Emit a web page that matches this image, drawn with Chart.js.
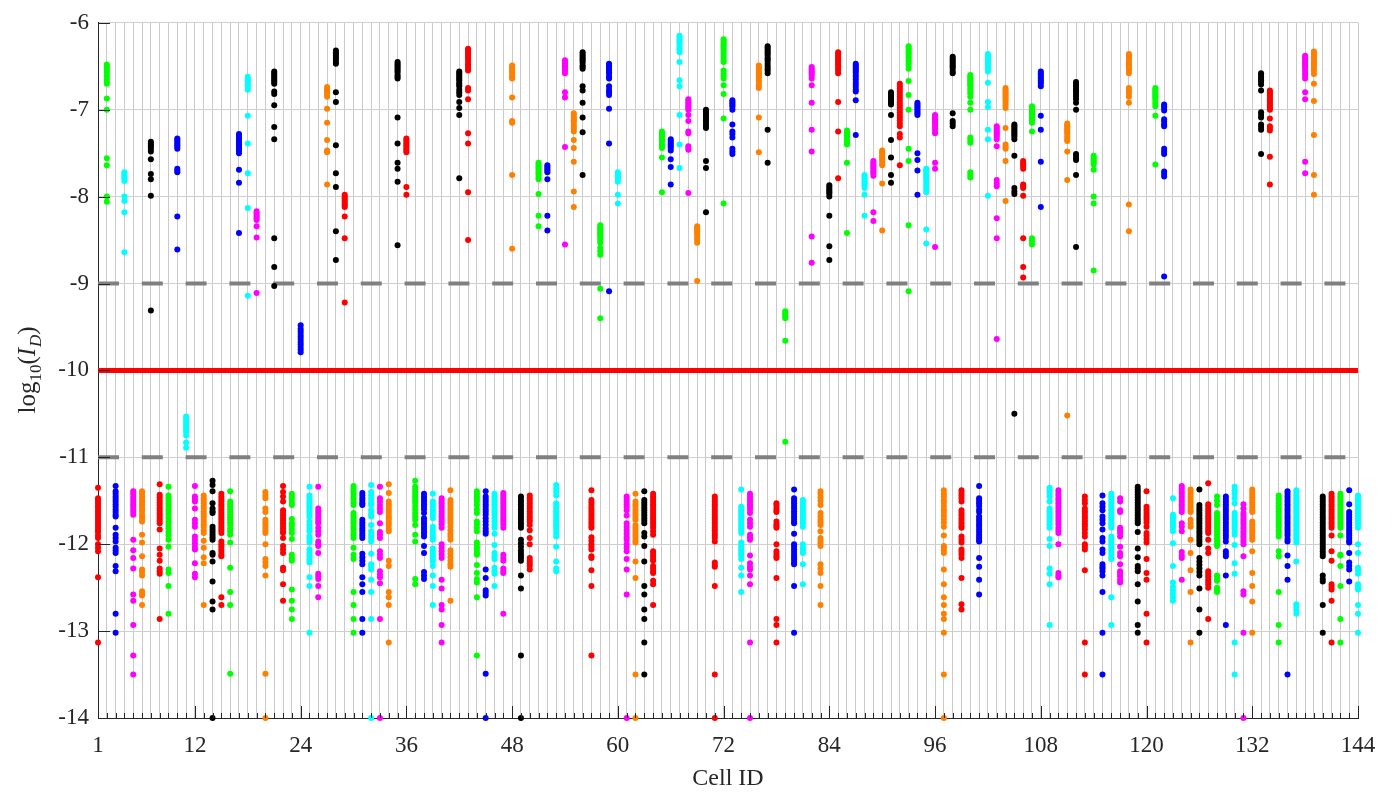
<!DOCTYPE html>
<html>
<head>
<meta charset="utf-8">
<script src="https://cdn.jsdelivr.net/npm/chart.js@4"></script>
<style>
  html, body { margin: 0; padding: 0; background: #ffffff; }
  #wrap { width: 1396px; height: 798px; }
</style>
</head>
<body>
<div id="wrap"><canvas id="chart" width="1396" height="798"></canvas></div>
<script>
// Colour of each cell cycles through seven colours by cell number
const colourCycle = ['#ff0000', '#00ff00', '#0000ff', '#00ffff', '#ff00ff', '#ff8000', '#000000'];

// Tick labels of the cell axis
const cellTickLabels = [1, 12, 24, 36, 48, 60, 72, 84, 96, 108, 120, 132, 144];

// Threshold levels of log10(I_D)
const upperLimit = [-9];
const cutLevel = [-10];
const lowerLimit = [-11];

// Cells whose readings sit above the lower limit
const upperCells = [2, 4, 7, 10, 11, 17, 18, 19, 21, 24, 27, 28, 29, 35, 36, 42, 43, 48, 51, 52, 54, 55, 56, 58, 59, 60,
  65, 66, 67, 68, 69, 70, 72, 73, 76, 77, 79, 82, 84, 85, 86, 87, 88, 89, 90, 91, 92, 93, 94, 95, 96, 98, 100, 102,
  103, 104, 105, 106, 107, 108, 111, 112, 114, 118, 121, 122, 133, 134, 138, 139];
const upperReadings = [
  [-6.48,-6.5,-6.52,-6.55,-6.57,-6.6,-6.62,-6.65,-6.68,-6.7,-6.87,-7.0,-7.56,-7.64,-8.0,-8.06],
  [-7.72,-7.74,-7.76,-7.78,-7.8,-7.82,-8.0,-8.05,-8.18,-8.64],
  [-7.37,-7.39,-7.41,-7.43,-7.45,-7.48,-7.57,-7.74,-7.8,-7.99,-9.31],
  [-7.33,-7.35,-7.37,-7.39,-7.41,-7.43,-7.45,-7.68,-7.7,-7.72,-8.23,-8.61],
  [-10.53,-10.56,-10.59,-10.62,-10.65,-10.68,-10.71,-10.75,-10.83,-10.89],
  [-7.28,-7.3,-7.32,-7.34,-7.36,-7.38,-7.4,-7.42,-7.44,-7.46,-7.48,-7.5,-7.69,-7.84,-8.42],
  [-6.62,-6.64,-6.66,-6.68,-6.71,-6.74,-6.77,-7.07,-7.39,-7.73,-8.13,-9.14],
  [-8.17,-8.19,-8.21,-8.23,-8.25,-8.27,-8.34,-8.47,-9.11],
  [-6.56,-6.58,-6.6,-6.62,-6.64,-6.66,-6.68,-6.7,-6.79,-6.82,-6.95,-7.2,-7.34,-8.48,-8.81,-9.03],
  [-9.48,-9.52,-9.55,-9.58,-9.61,-9.64,-9.67,-9.7,-9.73,-9.76,-9.79],
  [-6.74,-6.76,-6.78,-6.8,-6.82,-6.85,-6.99,-7.15,-7.35,-7.47,-7.49,-7.86],
  [-6.32,-6.34,-6.36,-6.38,-6.4,-6.42,-6.45,-6.47,-6.8,-6.91,-7.41,-7.73,-7.89,-8.4,-8.73],
  [-7.98,-8.0,-8.02,-8.04,-8.06,-8.08,-8.1,-8.12,-8.23,-8.48,-9.22],
  [-6.45,-6.47,-6.49,-6.51,-6.53,-6.55,-6.57,-6.6,-6.62,-6.64,-7.09,-7.39,-7.61,-7.68,-7.83,-8.56],
  [-7.33,-7.35,-7.37,-7.39,-7.41,-7.43,-7.45,-7.47,-7.49,-7.89,-7.98],
  [-6.56,-6.58,-6.6,-6.62,-6.64,-6.66,-6.69,-6.71,-6.73,-6.77,-6.8,-6.83,-6.91,-6.98,-7.06,-7.79],
  [-6.3,-6.32,-6.34,-6.36,-6.38,-6.4,-6.42,-6.45,-6.48,-6.5,-6.53,-6.55,-6.75,-6.78,-6.88,-7.27,-7.39,-7.95,-8.5],
  [-6.49,-6.51,-6.53,-6.55,-6.57,-6.6,-6.62,-6.64,-6.86,-7.13,-7.15,-7.75,-8.6],
  [-7.61,-7.63,-7.65,-7.67,-7.69,-7.71,-7.73,-7.75,-7.78,-7.8,-7.97,-8.22,-8.34],
  [-7.64,-7.66,-7.68,-7.7,-7.72,-7.8,-8.22,-8.39],
  [-6.43,-6.45,-6.47,-6.49,-6.51,-6.53,-6.55,-6.58,-6.8,-6.86,-7.43,-8.55],
  [-7.04,-7.06,-7.08,-7.1,-7.12,-7.14,-7.17,-7.2,-7.22,-7.25,-7.35,-7.44,-7.6,-7.94,-8.12],
  [-6.34,-6.36,-6.38,-6.4,-6.42,-6.44,-6.46,-6.49,-6.51,-6.53,-6.73,-6.78,-6.92,-7.09,-7.26,-7.75],
  [-8.33,-8.35,-8.37,-8.39,-8.41,-8.43,-8.45,-8.47,-8.5,-8.53,-8.59,-8.63,-8.67,-9.06,-9.4],
  [-6.47,-6.49,-6.51,-6.53,-6.55,-6.57,-6.59,-6.62,-6.64,-6.73,-6.77,-6.8,-6.83,-6.99,-7.39,-9.09],
  [-7.72,-7.74,-7.76,-7.78,-7.8,-7.83,-7.98,-8.08],
  [-7.25,-7.27,-7.29,-7.31,-7.33,-7.35,-7.37,-7.4,-7.42,-7.44,-7.55,-7.95],
  [-7.34,-7.36,-7.38,-7.4,-7.42,-7.44,-7.47,-7.57,-7.66,-7.86],
  [-6.15,-6.17,-6.19,-6.21,-6.23,-6.26,-6.29,-6.31,-6.34,-6.45,-6.66,-6.73,-7.06,-7.4,-7.67],
  [-6.88,-6.9,-6.92,-6.94,-6.96,-6.98,-7.0,-7.06,-7.13,-7.25,-7.27,-7.42,-7.44,-7.46,-7.96],
  [-8.34,-8.36,-8.38,-8.4,-8.42,-8.44,-8.47,-8.5,-8.53,-8.97],
  [-7.0,-7.02,-7.04,-7.06,-7.08,-7.1,-7.12,-7.14,-7.17,-7.19,-7.21,-7.59,-7.67,-8.18],
  [-6.19,-6.21,-6.23,-6.25,-6.27,-6.29,-6.31,-6.34,-6.37,-6.4,-6.43,-6.45,-6.55,-6.58,-6.61,-6.64,-6.72,-6.82,-7.1,-8.08],
  [-6.89,-6.91,-6.93,-6.95,-6.97,-7.0,-7.17,-7.25,-7.28,-7.32,-7.45,-7.48,-7.51],
  [-6.49,-6.51,-6.53,-6.55,-6.57,-6.59,-6.61,-6.63,-6.66,-6.69,-6.72,-6.75,-7.09,-7.49],
  [-6.27,-6.29,-6.31,-6.33,-6.35,-6.37,-6.4,-6.42,-6.44,-6.47,-6.5,-6.53,-6.55,-6.58,-7.23,-7.61],
  [-9.32,-9.34,-9.36,-9.38,-9.4,-9.66,-10.82],
  [-6.51,-6.53,-6.55,-6.57,-6.59,-6.61,-6.64,-6.72,-6.92,-7.23,-7.48,-8.46,-8.76],
  [-7.87,-7.89,-7.91,-7.93,-7.95,-7.97,-8.0,-8.22,-8.57,-8.73],
  [-6.34,-6.36,-6.38,-6.4,-6.42,-6.44,-6.46,-6.48,-6.5,-6.53,-6.55,-6.58,-6.91,-7.25,-7.79],
  [-7.24,-7.26,-7.28,-7.3,-7.32,-7.34,-7.36,-7.38,-7.4,-7.61,-8.42],
  [-6.47,-6.49,-6.51,-6.53,-6.55,-6.57,-6.6,-6.62,-6.65,-6.68,-6.71,-6.74,-6.77,-6.79,-6.89,-7.29],
  [-7.75,-7.77,-7.79,-7.81,-7.83,-7.85,-7.87,-7.9,-7.98,-8.22],
  [-7.59,-7.61,-7.63,-7.65,-7.67,-7.69,-7.71,-7.73,-7.76,-8.18,-8.28],
  [-7.47,-7.49,-7.51,-7.53,-7.55,-7.57,-7.59,-7.62,-7.64,-7.85,-8.39],
  [-6.8,-6.82,-6.84,-6.86,-6.88,-6.9,-6.92,-6.94,-7.06,-7.35,-7.55,-7.75,-7.84],
  [-6.7,-6.73,-6.76,-6.79,-6.82,-6.85,-6.88,-6.91,-6.94,-6.97,-7.0,-7.03,-7.06,-7.09,-7.12,-7.16,-7.19,-7.28,-7.32,-7.64],
  [-6.27,-6.29,-6.31,-6.33,-6.35,-6.37,-6.4,-6.43,-6.46,-6.49,-6.53,-6.67,-6.83,-7.0,-7.45,-7.59,-8.33,-9.09],
  [-6.92,-6.94,-6.96,-6.98,-7.0,-7.02,-7.04,-7.06,-7.5,-7.58,-7.7,-7.98],
  [-7.68,-7.7,-7.72,-7.74,-7.76,-7.78,-7.8,-7.83,-7.86,-7.89,-7.92,-7.95,-8.38,-8.54],
  [-7.06,-7.08,-7.1,-7.12,-7.14,-7.16,-7.18,-7.21,-7.24,-7.27,-7.61,-7.68,-8.58],
  [-6.39,-6.41,-6.43,-6.45,-6.47,-6.49,-6.51,-6.53,-6.56,-6.58,-7.04,-7.13,-7.16,-7.19],
  [-6.6,-6.62,-6.64,-6.66,-6.68,-6.7,-6.72,-6.75,-6.78,-6.81,-6.85,-6.92,-7.0,-7.32,-7.35,-7.38,-7.72,-7.75,-7.78],
  [-6.36,-6.38,-6.4,-6.42,-6.44,-6.46,-6.48,-6.5,-6.53,-6.56,-6.69,-6.91,-6.97,-7.23,-7.34,-7.99],
  [-7.19,-7.21,-7.23,-7.25,-7.27,-7.29,-7.31,-7.34,-7.42,-7.81,-7.85,-7.88,-8.25,-8.48,-9.64],
  [-6.75,-6.77,-6.79,-6.81,-6.83,-6.85,-6.87,-6.89,-6.92,-6.95,-6.98,-7.21,-7.4,-7.43,-7.45,-7.59,-8.05],
  [-7.17,-7.19,-7.21,-7.23,-7.25,-7.27,-7.29,-7.31,-7.34,-7.53,-7.9,-7.94,-7.97,-10.5],
  [-7.59,-7.61,-7.63,-7.65,-7.68,-7.86,-7.88,-7.9,-7.99,-8.48,-8.81,-8.93],
  [-6.96,-6.98,-7.0,-7.02,-7.04,-7.06,-7.08,-7.1,-7.12,-7.15,-7.25,-8.48,-8.51,-8.55],
  [-6.56,-6.58,-6.6,-6.62,-6.64,-6.66,-6.68,-6.7,-6.73,-7.07,-7.23,-7.6,-8.12],
  [-7.16,-7.18,-7.2,-7.22,-7.24,-7.26,-7.28,-7.31,-7.34,-7.36,-7.48,-7.81,-10.52],
  [-6.68,-6.7,-6.72,-6.74,-6.76,-6.78,-6.8,-6.83,-6.85,-6.88,-6.92,-7.0,-7.51,-7.53,-7.56,-7.58,-7.75,-8.58],
  [-7.53,-7.55,-7.57,-7.59,-7.61,-7.63,-7.69,-8.0,-8.08,-8.85],
  [-6.36,-6.38,-6.4,-6.42,-6.44,-6.46,-6.48,-6.5,-6.52,-6.55,-6.58,-6.75,-6.78,-6.81,-6.85,-6.92,-8.09,-8.4],
  [-6.75,-6.77,-6.79,-6.81,-6.83,-6.85,-6.87,-6.9,-6.93,-6.96,-7.07,-7.63],
  [-6.94,-6.96,-6.98,-7.01,-7.11,-7.14,-7.17,-7.19,-7.45,-7.48,-7.51,-7.71,-7.74,-7.77,-8.92],
  [-6.58,-6.6,-6.62,-6.64,-6.66,-6.68,-6.71,-6.78,-7.03,-7.06,-7.09,-7.17,-7.2,-7.23,-7.51],
  [-6.78,-6.8,-6.82,-6.84,-6.86,-6.88,-6.9,-6.92,-6.94,-6.96,-6.98,-7.0,-7.1,-7.19,-7.21,-7.24,-7.54,-7.86],
  [-6.38,-6.4,-6.42,-6.44,-6.46,-6.48,-6.5,-6.52,-6.55,-6.58,-6.61,-6.64,-6.8,-6.88,-7.6,-7.73],
  [-6.33,-6.35,-6.37,-6.39,-6.41,-6.43,-6.45,-6.47,-6.49,-6.52,-6.55,-6.59,-6.7,-6.9,-7.29,-7.75,-7.98]
];

// Cells whose readings sit below the lower limit (-14 is the measurement floor)
const lowerCells = [1, 3, 5, 6, 8, 9, 12, 13, 14, 15, 16, 20, 22, 23, 25, 26, 30, 31, 32, 33, 34, 37, 38, 39, 40, 41,
  44, 45, 46, 47, 49, 50, 53, 57, 61, 62, 63, 64, 71, 74, 75, 78, 80, 81, 83, 97, 99, 101, 109, 110, 113, 115, 116,
  117, 119, 120, 123, 124, 125, 126, 127, 128, 129, 130, 131, 132, 135, 136, 137, 140, 141, 142, 143, 144];
const lowerReadings = [
  [-11.35,-11.47,-11.5,-11.53,-11.56,-11.59,-11.62,-11.65,-11.68,-11.71,-11.74,-11.77,-11.8,-11.83,-11.86,-11.9,-11.93,-12.0,-12.04,-12.08,-12.38,-13.13],
  [-11.33,-11.39,-11.42,-11.45,-11.48,-11.51,-11.54,-11.57,-11.6,-11.63,-11.66,-11.68,-11.81,-11.89,-11.93,-11.97,-12.04,-12.07,-12.1,-12.25,-12.31,-12.8,-13.02],
  [-11.39,-11.42,-11.45,-11.48,-11.51,-11.54,-11.57,-11.6,-11.63,-11.66,-11.95,-12.07,-12.16,-12.28,-12.58,-12.65,-12.93,-13.28,-13.5],
  [-11.39,-11.42,-11.45,-11.48,-11.51,-11.54,-11.57,-11.6,-11.63,-11.67,-11.7,-11.74,-11.89,-11.98,-12.14,-12.29,-12.32,-12.36,-12.54,-12.57,-12.59,-12.7],
  [-11.31,-11.43,-11.46,-11.49,-11.52,-11.55,-11.58,-11.61,-11.64,-11.67,-11.7,-11.73,-11.76,-11.83,-12.05,-12.12,-12.19,-12.28,-12.31,-12.34,-12.86],
  [-11.34,-11.44,-11.47,-11.5,-11.53,-11.56,-11.6,-11.63,-11.66,-11.7,-11.74,-11.78,-11.82,-11.86,-11.9,-11.95,-12.03,-12.29,-12.33,-12.48,-12.8],
  [-11.33,-11.45,-11.48,-11.51,-11.59,-11.72,-11.76,-11.8,-11.91,-11.95,-11.99,-12.03,-12.06,-12.22,-12.34,-12.38],
  [-11.44,-11.47,-11.5,-11.53,-11.56,-11.59,-11.62,-11.65,-11.68,-11.71,-11.74,-11.77,-11.8,-11.84,-11.87,-11.96,-12.04,-12.15,-12.22,-12.7],
  [-11.27,-11.32,-11.39,-11.53,-11.59,-11.62,-11.64,-11.8,-11.83,-11.86,-11.89,-11.92,-11.95,-12.1,-12.12,-12.2,-12.43,-12.66,-12.75,-14],
  [-11.42,-11.45,-11.48,-11.51,-11.54,-11.57,-11.6,-11.63,-11.66,-11.69,-11.72,-11.75,-11.78,-11.81,-11.84,-11.87,-11.97,-12.0,-12.03,-12.06,-12.09,-12.12,-12.14,-12.61,-12.7],
  [-11.39,-11.51,-11.54,-11.57,-11.6,-11.63,-11.66,-11.69,-11.72,-11.75,-11.78,-11.82,-11.85,-11.89,-11.98,-12.27,-12.55,-12.7,-13.49],
  [-11.4,-11.44,-11.47,-11.59,-11.63,-11.72,-11.75,-11.78,-11.81,-11.84,-11.87,-12.0,-12.17,-12.21,-12.25,-12.36,-13.49,-14],
  [-11.33,-11.4,-11.45,-11.51,-11.61,-11.64,-11.67,-11.7,-11.73,-11.76,-11.79,-11.82,-11.85,-11.87,-11.93,-12.02,-12.06,-12.1,-12.27,-12.3,-12.46,-12.65],
  [-11.42,-11.45,-11.48,-11.52,-11.55,-11.71,-11.76,-11.79,-11.83,-11.87,-11.94,-12.12,-12.16,-12.19,-12.52,-12.65,-12.75,-12.86],
  [-11.34,-11.44,-11.47,-11.5,-11.53,-11.56,-11.59,-11.62,-11.65,-11.68,-11.74,-11.78,-11.82,-11.85,-11.91,-11.95,-11.98,-12.06,-12.1,-12.14,-12.18,-12.21,-12.38,-12.48,-13.02],
  [-11.34,-11.59,-11.62,-11.65,-11.68,-11.71,-11.74,-11.76,-11.81,-11.85,-11.89,-11.97,-12.0,-12.02,-12.1,-12.34,-12.37,-12.4,-12.48,-12.61],
  [-11.33,-11.36,-11.39,-11.42,-11.45,-11.48,-11.52,-11.55,-11.64,-11.67,-11.7,-11.73,-11.76,-11.8,-11.83,-11.87,-11.9,-11.93,-12.04,-12.12,-12.17,-12.55,-12.7,-12.86,-13.02],
  [-11.41,-11.44,-11.47,-11.5,-11.53,-11.55,-11.72,-11.75,-11.78,-11.81,-11.84,-11.87,-11.9,-11.93,-12.11,-12.15,-12.19,-12.23,-12.38,-12.46,-12.55,-12.86,-13.02],
  [-11.32,-11.4,-11.44,-11.48,-11.52,-11.55,-11.61,-11.65,-11.68,-11.78,-11.85,-11.89,-11.93,-11.97,-12.11,-12.23,-12.26,-12.29,-12.41,-12.55,-12.86,-14],
  [-11.34,-11.47,-11.51,-11.55,-11.59,-11.63,-11.76,-11.86,-11.89,-11.93,-12.08,-12.12,-12.16,-12.31,-12.35,-12.38,-12.45,-12.86,-14],
  [-11.31,-11.41,-11.51,-11.54,-11.57,-11.6,-11.63,-11.66,-11.69,-11.72,-11.75,-11.78,-11.82,-11.85,-12.19,-12.25,-12.55,-12.61,-12.7,-13.13],
  [-11.27,-11.34,-11.37,-11.4,-11.43,-11.46,-11.49,-11.52,-11.56,-11.6,-11.64,-11.68,-11.72,-11.78,-11.89,-11.97,-12.4,-12.46],
  [-11.42,-11.45,-11.48,-11.51,-11.54,-11.57,-11.6,-11.64,-11.7,-11.73,-11.76,-11.79,-11.82,-11.85,-11.88,-11.91,-12.02,-12.1,-12.32,-12.36,-12.4],
  [-11.42,-11.51,-11.54,-11.57,-11.6,-11.63,-11.66,-11.7,-11.8,-11.84,-11.88,-11.92,-11.95,-12.05,-12.08,-12.11,-12.14,-12.17,-12.2,-12.25,-12.36,-12.48,-12.7],
  [-11.47,-11.5,-11.53,-11.56,-11.59,-11.62,-11.65,-11.68,-11.71,-11.74,-11.77,-11.81,-12.0,-12.04,-12.08,-12.12,-12.16,-12.41,-12.51,-12.7,-12.75,-12.93,-13.13],
  [-11.38,-11.49,-11.52,-11.55,-11.58,-11.61,-11.64,-11.67,-11.7,-11.73,-11.76,-11.8,-11.84,-11.88,-11.91,-11.95,-12.07,-12.11,-12.15,-12.19,-12.23,-12.26,-12.65],
  [-11.39,-11.42,-11.45,-11.48,-11.51,-11.55,-11.6,-11.64,-11.74,-11.77,-11.81,-11.85,-11.98,-12.01,-12.04,-12.07,-12.1,-12.12,-12.24,-12.33,-12.4,-12.44,-12.61,-13.28],
  [-11.39,-11.45,-11.48,-11.51,-11.54,-11.57,-11.6,-11.63,-11.66,-11.7,-11.74,-11.78,-11.82,-11.85,-11.88,-12.29,-12.39,-12.53,-12.56,-12.59,-13.49,-14],
  [-11.42,-11.45,-11.48,-11.51,-11.54,-11.57,-11.6,-11.63,-11.66,-11.7,-11.74,-11.78,-11.81,-11.88,-12.01,-12.1,-12.14,-12.17,-12.27,-12.31,-12.34,-12.48],
  [-11.41,-11.44,-11.47,-11.5,-11.53,-11.56,-11.59,-11.62,-11.65,-11.68,-11.71,-11.74,-11.77,-11.81,-12.12,-12.16,-12.19,-12.28,-12.31,-12.33,-12.8],
  [-11.45,-11.48,-11.51,-11.54,-11.57,-11.6,-11.63,-11.66,-11.69,-11.72,-11.75,-11.78,-11.81,-11.95,-11.99,-12.03,-12.07,-12.1,-12.13,-12.16,-12.19,-12.36,-12.51,-13.28,-14],
  [-11.44,-11.47,-11.5,-11.53,-11.56,-11.59,-11.62,-11.65,-11.68,-11.71,-11.74,-11.78,-11.84,-11.93,-12.0,-12.16,-12.19,-12.22,-12.25,-12.29],
  [-11.32,-11.36,-11.4,-11.44,-11.53,-11.56,-11.59,-11.62,-11.65,-11.68,-11.71,-11.74,-11.77,-11.8,-11.83,-11.87,-11.91,-12.03,-12.2,-12.28,-12.31],
  [-11.38,-11.49,-11.52,-11.55,-11.58,-11.61,-11.64,-11.67,-11.7,-11.73,-11.76,-11.79,-11.81,-11.92,-11.96,-12.0,-12.03,-12.06,-12.14,-12.16,-12.3,-12.48,-13.28],
  [-11.45,-11.48,-11.51,-11.54,-11.57,-11.61,-11.67,-11.76,-11.8,-11.84,-11.88,-11.92,-11.95,-12.0,-12.04,-12.08,-12.17,-12.29,-12.58,-14],
  [-11.42,-11.51,-11.54,-11.57,-11.6,-11.63,-11.66,-11.69,-11.72,-11.78,-11.81,-11.84,-11.87,-11.9,-11.93,-11.96,-11.98,-12.2,-12.39,-13.5,-14],
  [-11.39,-11.49,-11.52,-11.55,-11.58,-11.61,-11.64,-11.67,-11.7,-11.73,-11.76,-11.87,-11.91,-12.02,-12.2,-12.48,-12.58,-12.75,-12.86,-13.13,-13.5],
  [-11.42,-11.45,-11.48,-11.51,-11.54,-11.57,-11.6,-11.63,-11.66,-11.69,-11.72,-11.75,-11.78,-11.81,-11.85,-11.89,-12.08,-12.11,-12.14,-12.17,-12.19,-12.25,-12.28,-12.31,-12.33,-12.42,-12.46,-12.7],
  [-11.45,-11.48,-11.51,-11.54,-11.57,-11.6,-11.63,-11.66,-11.69,-11.72,-11.75,-11.78,-11.81,-11.84,-11.87,-11.9,-11.93,-11.97,-12.21,-12.24,-12.26,-12.48,-13.5,-14],
  [-11.37,-11.57,-11.6,-11.63,-11.66,-11.69,-11.72,-11.75,-11.78,-11.81,-11.84,-11.87,-11.98,-12.01,-12.04,-12.07,-12.1,-12.13,-12.17,-12.27,-12.36,-12.55],
  [-11.42,-11.45,-11.48,-11.51,-11.54,-11.57,-11.6,-11.64,-11.72,-11.76,-11.8,-11.89,-11.92,-11.95,-12.13,-12.22,-12.26,-12.29,-12.36,-12.46,-13.13,-14],
  [-11.53,-11.55,-11.58,-11.61,-11.63,-11.74,-11.77,-11.79,-11.81,-12.0,-12.08,-12.11,-12.14,-12.16,-12.39,-12.86,-12.93,-13.13],
  [-11.37,-11.47,-11.5,-11.53,-11.56,-11.59,-11.62,-11.65,-11.68,-11.71,-11.74,-11.76,-11.88,-12.0,-12.03,-12.06,-12.09,-12.12,-12.15,-12.18,-12.21,-12.23,-12.48,-13.02],
  [-11.49,-11.52,-11.55,-11.58,-11.61,-11.64,-11.67,-11.7,-11.73,-11.76,-11.8,-12.0,-12.04,-12.07,-12.1,-12.23,-12.46],
  [-11.39,-11.42,-11.46,-11.5,-11.55,-11.64,-11.68,-11.72,-11.75,-11.78,-11.85,-11.93,-11.96,-11.99,-12.02,-12.23,-12.28,-12.33,-12.48,-12.7],
  [-11.38,-11.42,-11.45,-11.49,-11.52,-11.56,-11.6,-11.63,-11.67,-11.71,-11.75,-11.8,-11.9,-12.02,-12.04,-12.07,-12.1,-12.29,-12.46,-12.61,-12.7,-12.8,-12.86,-13.02,-13.5,-14],
  [-11.38,-11.41,-11.44,-11.47,-11.51,-11.61,-11.64,-11.67,-11.7,-11.73,-11.76,-11.79,-11.81,-11.91,-11.95,-11.98,-12.06,-12.09,-12.12,-12.16,-12.39,-12.69,-12.75],
  [-11.33,-11.47,-11.5,-11.53,-11.56,-11.6,-11.63,-11.68,-11.71,-11.74,-11.77,-11.8,-11.83,-11.86,-11.89,-11.92,-11.95,-11.97,-12.16,-12.26,-12.41,-12.58],
  [-11.35,-11.38,-11.41,-11.45,-11.51,-11.59,-11.62,-11.65,-11.68,-11.71,-11.74,-11.77,-11.81,-11.94,-12.02,-12.28,-12.34,-12.46,-12.93],
  [-11.38,-11.41,-11.44,-11.47,-11.5,-11.53,-11.56,-11.59,-11.62,-11.65,-11.68,-11.71,-11.74,-11.77,-11.81,-11.84,-11.87,-12.0,-12.33,-12.36,-12.38],
  [-11.45,-11.49,-11.53,-11.59,-11.62,-11.65,-11.68,-11.71,-11.74,-11.77,-11.8,-11.83,-11.87,-11.91,-12.0,-12.03,-12.06,-12.3,-13.13,-13.5],
  [-11.44,-11.53,-11.57,-11.61,-11.68,-11.72,-11.76,-11.83,-11.93,-11.97,-12.06,-12.1,-12.23,-12.26,-12.28,-12.31,-12.36,-12.55,-13.02,-13.5],
  [-11.42,-11.45,-11.48,-11.51,-11.54,-11.57,-11.6,-11.63,-11.66,-11.69,-11.72,-11.75,-11.78,-11.81,-11.91,-11.94,-11.97,-12.0,-12.03,-12.06,-12.1,-12.14,-12.17,-12.61,-12.93],
  [-11.47,-11.51,-11.61,-11.63,-11.81,-11.84,-11.87,-11.91,-12.03,-12.1,-12.14,-12.23,-12.31,-12.34,-12.37,-12.41,-12.44],
  [-11.34,-11.37,-11.4,-11.43,-11.46,-11.49,-11.52,-11.55,-11.58,-11.61,-11.64,-11.67,-11.7,-11.73,-11.76,-11.86,-12.05,-12.15,-12.25,-12.28,-12.31,-12.46,-12.66,-12.93,-13.02],
  [-11.39,-11.57,-11.6,-11.63,-11.66,-11.69,-11.72,-11.75,-11.8,-11.87,-11.9,-11.94,-11.98,-12.17,-12.33,-12.41,-12.8,-13.13],
  [-11.47,-11.66,-11.69,-11.72,-11.75,-11.78,-11.81,-11.85,-11.99,-12.25,-12.44,-12.49,-12.53,-12.57,-12.61,-12.65],
  [-11.33,-11.36,-11.39,-11.42,-11.45,-11.48,-11.51,-11.54,-11.57,-11.6,-11.63,-11.76,-11.8,-11.85,-12.09,-12.13,-12.16,-12.41],
  [-11.37,-11.4,-11.43,-11.46,-11.49,-11.52,-11.55,-11.58,-11.61,-11.63,-11.72,-11.76,-11.8,-11.95,-12.1,-12.3,-12.55,-13.13],
  [-11.37,-11.55,-11.58,-11.61,-11.64,-11.67,-11.7,-11.73,-11.76,-11.79,-11.82,-11.85,-11.88,-11.91,-11.94,-11.97,-12.0,-12.16,-12.2,-12.24,-12.28,-12.32,-12.36,-12.51,-12.75,-13.02],
  [-11.3,-11.54,-11.57,-11.6,-11.63,-11.66,-11.69,-11.72,-11.75,-11.78,-11.81,-11.84,-11.87,-11.95,-12.05,-12.1,-12.31,-12.34,-12.37,-12.4,-12.43,-12.46,-12.5,-12.86],
  [-11.45,-11.5,-11.55,-11.64,-11.67,-11.7,-11.73,-11.76,-11.79,-11.82,-11.85,-11.88,-11.91,-11.94,-11.97,-12.0,-12.02,-12.36,-12.39,-12.42,-12.5,-12.53,-12.55],
  [-11.45,-11.48,-11.51,-11.54,-11.57,-11.6,-11.63,-11.66,-11.69,-11.72,-11.75,-11.78,-11.81,-11.84,-11.87,-11.9,-11.93,-11.97,-12.08,-12.11,-12.14,-12.36,-12.93],
  [-11.34,-11.38,-11.42,-11.47,-11.53,-11.64,-11.67,-11.7,-11.73,-11.76,-11.79,-11.82,-11.86,-11.89,-12.01,-12.22,-12.34,-13.13,-13.5],
  [-11.54,-11.59,-11.64,-11.67,-11.7,-11.73,-11.76,-11.79,-11.82,-11.85,-11.88,-11.91,-11.94,-11.97,-12.0,-12.14,-12.54,-12.58,-13.02,-14],
  [-11.37,-11.4,-11.43,-11.46,-11.49,-11.52,-11.55,-11.58,-11.61,-11.63,-11.74,-11.77,-11.8,-11.83,-11.86,-11.89,-11.92,-11.95,-12.08,-12.33,-12.48,-12.66,-13.02],
  [-11.44,-11.47,-11.5,-11.53,-11.56,-11.59,-11.62,-11.65,-11.68,-11.71,-11.74,-11.77,-11.8,-11.84,-11.87,-11.91,-12.08,-12.14,-12.55,-12.93,-13.13],
  [-11.39,-11.42,-11.45,-11.48,-11.51,-11.54,-11.57,-11.6,-11.63,-11.66,-11.69,-11.72,-11.75,-11.78,-11.81,-11.84,-11.87,-11.9,-11.94,-11.97,-12.13,-12.25,-12.41,-13.5],
  [-11.38,-11.41,-11.44,-11.47,-11.5,-11.53,-11.56,-11.59,-11.62,-11.65,-11.68,-11.71,-11.74,-11.77,-11.8,-11.83,-11.86,-11.89,-11.92,-11.95,-11.98,-12.2,-12.69,-12.72,-12.76,-12.8],
  [-11.45,-11.48,-11.51,-11.54,-11.57,-11.6,-11.63,-11.66,-11.69,-11.72,-11.75,-11.78,-11.81,-11.84,-11.87,-11.9,-11.93,-11.96,-11.99,-12.02,-12.05,-12.08,-12.11,-12.14,-12.36,-12.4,-12.43,-12.7,-13.02],
  [-11.42,-11.45,-11.48,-11.51,-11.54,-11.57,-11.6,-11.63,-11.66,-11.69,-11.72,-11.75,-11.78,-11.81,-11.9,-12.08,-12.19,-12.46,-12.49,-12.52,-12.65,-13.13],
  [-11.42,-11.45,-11.48,-11.51,-11.54,-11.57,-11.6,-11.63,-11.66,-11.69,-11.72,-11.75,-11.78,-11.81,-11.9,-12.12,-12.13,-12.25,-12.48,-12.86,-13.13],
  [-11.38,-11.54,-11.63,-11.66,-11.69,-11.72,-11.75,-11.78,-11.81,-11.84,-11.87,-11.9,-11.93,-11.96,-11.98,-12.1,-12.21,-12.25,-12.29,-12.43],
  [-11.44,-11.47,-11.5,-11.53,-11.56,-11.59,-11.62,-11.65,-11.68,-11.71,-11.74,-11.77,-11.81,-12.0,-12.1,-12.27,-12.3,-12.34,-12.46,-12.49,-12.52,-12.7,-12.8,-13.02]
];

// Group every reading by the colour of its cell
function colourGroups() {
  const groups = colourCycle.map(() => []);
  const add = (cells, readings) => {
    cells.forEach((cell, i) => {
      const g = groups[(cell - 1) % colourCycle.length];
      readings[i].forEach(v => g.push({ x: cell, y: v }));
    });
  };
  add(upperCells, upperReadings);
  add(lowerCells, lowerReadings);
  return groups;
}

const pointSets = colourGroups().map((pts, k) => ({
  type: 'scatter',
  data: pts,
  backgroundColor: colourCycle[k],
  borderWidth: 0,
  pointRadius: 3,
  pointHoverRadius: 3,
  clip: false,
  order: 1
}));

function levelLine(level, colour, width, dash) {
  return {
    type: 'line',
    data: [{ x: 1, y: level }, { x: 144, y: level }],
    borderColor: colour,
    borderWidth: width,
    borderDash: dash,
    pointRadius: 0,
    fill: false,
    order: 5
  };
}

const axisInk = '#262626';
const serif = "'Liberation Serif', 'DejaVu Serif', serif";

// Inward tick marks along the left and bottom axes, plus the axis titles
const axisDecor = {
  id: 'axisDecor',
  afterDraw(chart) {
    const { ctx, chartArea, scales } = chart;
    const xs = scales.x, ys = scales.y;
    ctx.save();
    ctx.strokeStyle = axisInk;
    ctx.lineWidth = 1;
    for (let c = 1; c <= 144; c++) {
      const px = Math.round(xs.getPixelForValue(c)) + 0.5;
      const len = cellTickLabels.includes(c) ? 12 : 5;
      ctx.beginPath();
      ctx.moveTo(px, chartArea.bottom);
      ctx.lineTo(px, chartArea.bottom - len);
      ctx.stroke();
    }
    for (let v = -14; v <= -6; v++) {
      const py = Math.round(ys.getPixelForValue(v)) + 0.5;
      ctx.beginPath();
      ctx.moveTo(chartArea.left, py);
      ctx.lineTo(chartArea.left + 12, py);
      ctx.stroke();
    }

    // x title
    ctx.fillStyle = axisInk;
    ctx.font = `24px ${serif}`;
    ctx.textAlign = 'center';
    ctx.textBaseline = 'middle';
    ctx.fillText('Cell ID', (chartArea.left + chartArea.right) / 2, 779);

    // y title: log10(I_D) with subscripts
    const big = `25px ${serif}`, small = `17px ${serif}`;
    const bigIt = `italic 25px ${serif}`, smallIt = `italic 17px ${serif}`;
    const parts = [
      { t: 'log', f: big, dy: 0 },
      { t: '10', f: small, dy: 6 },
      { t: '(', f: big, dy: 0 },
      { t: 'I', f: bigIt, dy: 0 },
      { t: 'D', f: smallIt, dy: 6 },
      { t: ')', f: big, dy: 0 }
    ];
    let total = 0;
    parts.forEach(p => { ctx.font = p.f; p.w = ctx.measureText(p.t).width; total += p.w; });
    ctx.translate(27, (chartArea.top + chartArea.bottom) / 2);
    ctx.rotate(-Math.PI / 2);
    ctx.textAlign = 'left';
    ctx.textBaseline = 'alphabetic';
    let cx = -total / 2;
    parts.forEach(p => {
      ctx.font = p.f;
      ctx.fillText(p.t, cx, 8 + p.dy);
      cx += p.w + (p.t === 'I' ? 1 : 0);
    });
    ctx.restore();
  }
};

new Chart(document.getElementById('chart'), {
  data: {
    datasets: [
      levelLine(upperLimit[0], '#808080', 4, [21, 22.8]),
      levelLine(lowerLimit[0], '#808080', 4, [21, 22.8]),
      levelLine(cutLevel[0], '#ff0000', 5, []),
      ...pointSets
    ]
  },
  options: {
    responsive: false,
    animation: false,
    events: [],
    layout: { padding: { left: 0, right: 38, top: 16, bottom: 0 } },
    plugins: { legend: { display: false }, tooltip: { enabled: false } },
    scales: {
      x: {
        type: 'linear',
        min: 1,
        max: 144,
        afterBuildTicks(scale) {
          const t = [];
          for (let c = 1; c <= 144; c++) t.push({ value: c });
          scale.ticks = t;
        },
        afterFit(scale) { scale.height = 80; },
        ticks: {
          autoSkip: false,
          maxRotation: 0,
          padding: 14,
          color: axisInk,
          font: { family: serif, size: 23 },
          callback: v => (cellTickLabels.includes(v) ? String(v) : '')
        },
        grid: { color: '#cacaca', lineWidth: 1, drawTicks: false },
        border: { display: true, color: axisInk, width: 1 }
      },
      y: {
        type: 'linear',
        min: -14,
        max: -6,
        afterFit(scale) { scale.width = 98; },
        ticks: {
          stepSize: 1,
          padding: 9,
          color: axisInk,
          font: { family: serif, size: 23 },
          callback: v => String(v)
        },
        grid: { color: '#cfcfcf', lineWidth: 1, drawTicks: false },
        border: { display: true, color: axisInk, width: 1 }
      }
    }
  },
  plugins: [axisDecor]
});
</script>
</body>
</html>
